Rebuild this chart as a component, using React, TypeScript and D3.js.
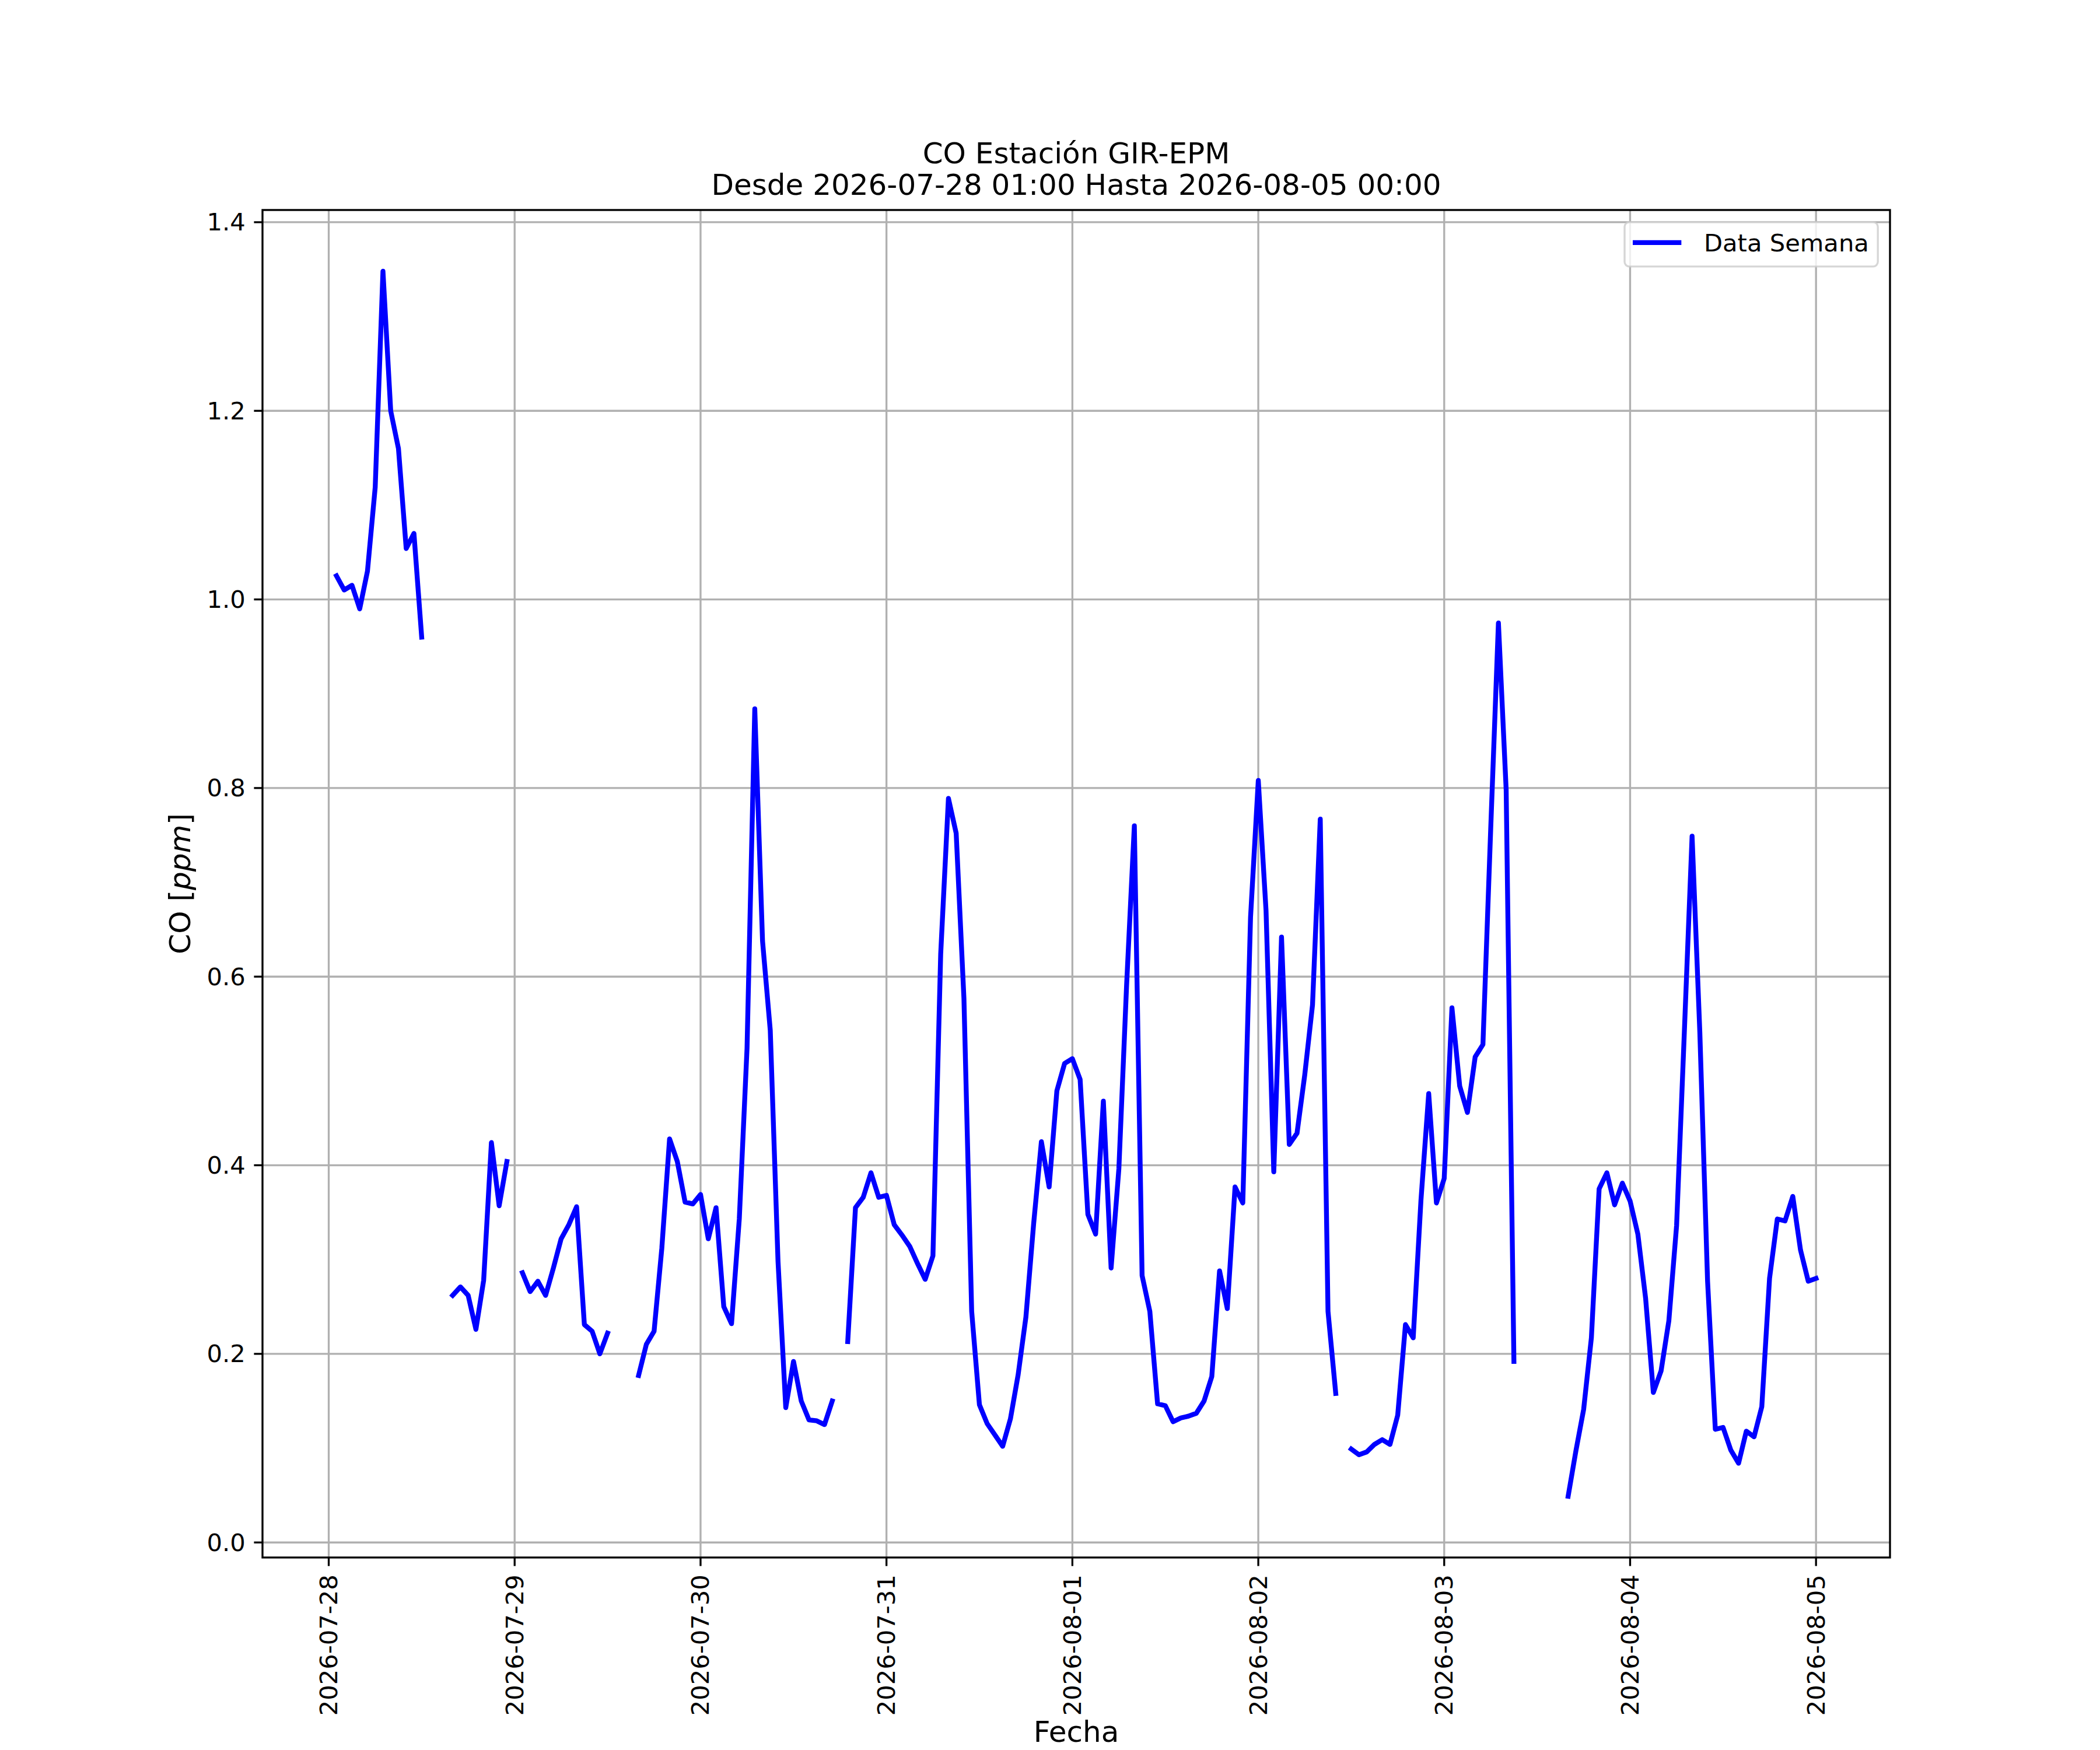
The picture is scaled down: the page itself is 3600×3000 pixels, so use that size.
import * as d3 from "d3";
import { useEffect, useRef } from "react";

// hourly CO readings, null = no data
const SERIES_START = Date.UTC(2026, 6, 28, 1); // first reading 2026-07-28 01:00
const CO_JUL28 = [1.025, 1.01, 1.015, 0.99, 1.03, 1.119, 1.348, 1.2, 1.16, 1.054, 1.07, 0.96, null, null, null, 0.262, 0.271, 0.262, 0.226, 0.278, 0.424, 0.357, 0.404]; // 01:00-23:00
const CO_JUL29 = [null, 0.286, 0.266, 0.277, 0.262, 0.291, 0.322, 0.337, 0.356, 0.231, 0.224, 0.2, 0.222, null, null, null, 0.177, 0.21, 0.224, 0.312, 0.428, 0.404, 0.361, 0.359];
const CO_JUL30 = [0.369, 0.322, 0.355, 0.25, 0.232, 0.343, 0.524, 0.884, 0.638, 0.543, 0.298, 0.143, 0.192, 0.15, 0.13, 0.129, 0.125, 0.15, null, 0.213, 0.355, 0.366, 0.392, 0.366];
const CO_JUL31 = [0.368, 0.337, 0.326, 0.314, 0.296, 0.279, 0.304, 0.624, 0.789, 0.752, 0.577, 0.245, 0.146, 0.126, 0.114, 0.102, 0.131, 0.178, 0.239, 0.338, 0.425, 0.377, 0.479, 0.508];
const CO_AUG01 = [0.513, 0.491, 0.348, 0.327, 0.468, 0.291, 0.396, 0.591, 0.76, 0.283, 0.245, 0.147, 0.145, 0.128, 0.132, 0.134, 0.137, 0.15, 0.176, 0.288, 0.248, 0.377, 0.36, 0.663];
const CO_AUG02 = [0.808, 0.67, 0.393, 0.642, 0.422, 0.434, 0.496, 0.57, 0.767, 0.245, 0.158, null, 0.099, 0.093, 0.096, 0.104, 0.109, 0.104, 0.135, 0.231, 0.217, 0.363, 0.476, 0.36];
const CO_AUG03 = [0.386, 0.567, 0.484, 0.456, 0.515, 0.528, 0.756, 0.975, 0.798, 0.192, null, null, null, null, null, null, 0.049, 0.097, 0.141, 0.217, 0.375, 0.392, 0.358, 0.381];
const CO_AUG04 = [0.362, 0.327, 0.259, 0.159, 0.182, 0.235, 0.336, 0.541, 0.749, 0.541, 0.277, 0.12, 0.122, 0.098, 0.084, 0.118, 0.112, 0.144, 0.28, 0.343, 0.341, 0.367, 0.31, 0.277];
const CO_AUG05 = [0.28]; // 00:00

const X_TICKS = ["2026-07-28", "2026-07-29", "2026-07-30", "2026-07-31", "2026-08-01", "2026-08-02", "2026-08-03", "2026-08-04", "2026-08-05"];
const Y_TICKS = [0.0, 0.2, 0.4, 0.6, 0.8, 1.0, 1.2, 1.4];

const TITLE = ["CO Estación GIR-EPM", "Desde 2026-07-28 01:00 Hasta 2026-08-05 00:00"];
const X_LABEL = "Fecha";
const LEGEND_LABEL = "Data Semana";

const W = 3600;
const H = 3000;
const FONT = "'DejaVu Sans', sans-serif";
const FS = 41.67; // 10pt @ 300dpi
const FS_L = 50; // 12pt

export default function App() {
	const svgRef = useRef<SVGSVGElement>(null);

	useEffect(() => {
		if (!svgRef.current) return;
		const values = [...CO_JUL28, ...CO_JUL29, ...CO_JUL30, ...CO_JUL31, ...CO_AUG01, ...CO_AUG02, ...CO_AUG03, ...CO_AUG04, ...CO_AUG05];
		const data = values.map((v, i) => ({ t: new Date(SERIES_START + i * 3600e3), v }));

		const margin = { top: 360, right: 360, bottom: 330, left: 450 };
		const x0 = margin.left;
		const x1 = W - margin.right;
		const y0 = H - margin.bottom;
		const y1 = margin.top;

		const svg = d3.select(svgRef.current);
		svg.selectAll("*").remove();
		svg.attr("width", W).attr("height", H).attr("font-family", FONT);
		svg.append("rect").attr("width", W).attr("height", H).attr("fill", "#ffffff");

		// matplotlib-like 5% margins
		const tExt = d3.extent(data, (d) => +d.t) as [number, number];
		const tPad = (tExt[1] - tExt[0]) * 0.05;
		const defined = data.filter((d) => d.v != null);
		const vExt = d3.extent(defined, (d) => d.v as number) as [number, number];
		const vPad = (vExt[1] - vExt[0]) * 0.05;

		const x = d3
			.scaleUtc()
			.domain([new Date(tExt[0] - tPad), new Date(tExt[1] + tPad)])
			.range([x0, x1]);
		const y = d3
			.scaleLinear()
			.domain([vExt[0] - vPad, vExt[1] + vPad])
			.range([y0, y1]);

		const xTicks = X_TICKS.map((s) => new Date(s + "T00:00:00Z"));

		// grid
		const grid = svg.append("g").attr("stroke", "#b0b0b0").attr("stroke-width", 3.33);
		grid.selectAll(".gx")
			.data(xTicks)
			.enter()
			.append("line")
			.attr("x1", (d) => x(d))
			.attr("x2", (d) => x(d))
			.attr("y1", y1)
			.attr("y2", y0);
		grid.selectAll(".gy")
			.data(Y_TICKS)
			.enter()
			.append("line")
			.attr("x1", x0)
			.attr("x2", x1)
			.attr("y1", (d) => y(d))
			.attr("y2", (d) => y(d));

		// series
		const line = d3
			.line<{ t: Date; v: number | null }>()
			.defined((d) => d.v != null)
			.x((d) => x(d.t))
			.y((d) => y(d.v as number));
		svg.append("path")
			.datum(data)
			.attr("d", line)
			.attr("fill", "none")
			.attr("stroke", "#0000ff")
			.attr("stroke-width", 8.33)
			.attr("stroke-linejoin", "round")
			.attr("stroke-linecap", "square");

		// spines
		svg.append("rect")
			.attr("x", x0)
			.attr("y", y1)
			.attr("width", x1 - x0)
			.attr("height", y0 - y1)
			.attr("fill", "none")
			.attr("stroke", "#000000")
			.attr("stroke-width", 3.33);

		const tickLen = 14.6;
		const pad = 14.6;

		// x ticks
		const xt = svg.append("g");
		xt.selectAll("line")
			.data(xTicks)
			.enter()
			.append("line")
			.attr("x1", (d) => x(d))
			.attr("x2", (d) => x(d))
			.attr("y1", y0)
			.attr("y2", y0 + tickLen)
			.attr("stroke", "#000")
			.attr("stroke-width", 3.33);
		xt.selectAll("text")
			.data(xTicks)
			.enter()
			.append("text")
			.attr("transform", (d) => `translate(${x(d)},${y0 + tickLen + pad}) rotate(-90)`)
			.attr("text-anchor", "end")
			.attr("dominant-baseline", "central")
			.attr("font-size", FS)
			.attr("fill", "#000")
			.text((d) => d3.utcFormat("%Y-%m-%d")(d));

		// y ticks
		const yt = svg.append("g");
		yt.selectAll("line")
			.data(Y_TICKS)
			.enter()
			.append("line")
			.attr("x1", x0 - tickLen)
			.attr("x2", x0)
			.attr("y1", (d) => y(d))
			.attr("y2", (d) => y(d))
			.attr("stroke", "#000")
			.attr("stroke-width", 3.33);
		yt.selectAll("text")
			.data(Y_TICKS)
			.enter()
			.append("text")
			.attr("x", x0 - tickLen - pad)
			.attr("y", (d) => y(d))
			.attr("text-anchor", "end")
			.attr("dominant-baseline", "central")
			.attr("font-size", FS)
			.attr("fill", "#000")
			.text((d) => d3.format(".1f")(d));

		// axis labels
		svg.append("text")
			.attr("x", (x0 + x1) / 2)
			.attr("y", 2986)
			.attr("text-anchor", "middle")
			.attr("font-size", FS_L)
			.text(X_LABEL);
		const yl = svg
			.append("text")
			.attr("transform", `translate(326,${(y0 + y1) / 2}) rotate(-90)`)
			.attr("text-anchor", "middle")
			.attr("font-size", FS_L);
		yl.append("tspan").text("CO [");
		yl.append("tspan").attr("font-style", "italic").text("ppm");
		yl.append("tspan").text("]");

		// title
		svg.selectAll(".title")
			.data(TITLE)
			.enter()
			.append("text")
			.attr("x", (x0 + x1) / 2)
			.attr("y", (_, i) => 280 + i * 54)
			.attr("text-anchor", "middle")
			.attr("font-size", FS_L)
			.text((d) => d);

		// legend
		const lg = svg.append("g");
		const boxR = x1 - 0.5 * FS;
		const boxT = y1 + 0.5 * FS;
		const boxL = 2785;
		const boxH = 76;
		lg.append("rect")
			.attr("x", boxL)
			.attr("y", boxT)
			.attr("width", boxR - boxL)
			.attr("height", boxH)
			.attr("rx", 8)
			.attr("fill", "#ffffff")
			.attr("fill-opacity", 0.8)
			.attr("stroke", "#cccccc")
			.attr("stroke-opacity", 0.8)
			.attr("stroke-width", 3.33);
		lg.append("line")
			.attr("x1", boxL + 14)
			.attr("x2", boxL + 14 + 2 * FS)
			.attr("y1", boxT + 35)
			.attr("y2", boxT + 35)
			.attr("stroke", "#0000ff")
			.attr("stroke-width", 8.33);
		lg.append("text")
			.attr("x", 2921)
			.attr("y", boxT + 50)
			.attr("font-size", FS)
			.text(LEGEND_LABEL);
	}, []);

	return (
		<div style={{ position: "absolute", left: 0, top: 0 }}>
			<svg ref={svgRef} style={{ display: "block" }} />
		</div>
	);
}
